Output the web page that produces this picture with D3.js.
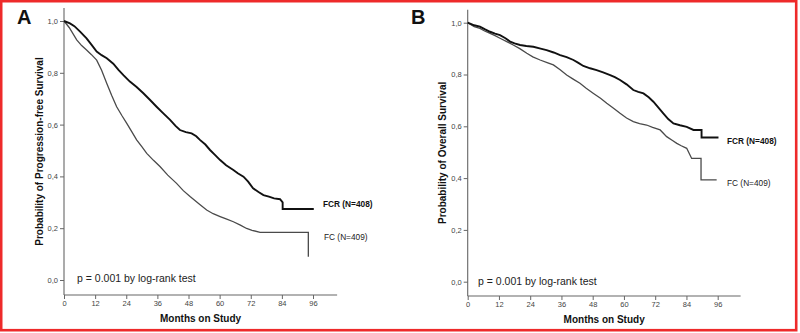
<!DOCTYPE html>
<html><head><meta charset="utf-8">
<script src="https://cdn.jsdelivr.net/npm/d3@7"></script>
<style>
html,body{margin:0;padding:0;background:#fff;}
svg{display:block;font-family:"Liberation Sans",Arial,sans-serif;}
</style></head>
<body>
<svg id="chart" width="800" height="333"></svg>
<script>
// ---------- data ----------
const xTicks = [0, 12, 24, 36, 48, 60, 72, 84, 96];
const yTicks = [0, 0.2, 0.4, 0.6, 0.8, 1.0];

// Panel A: progression-free survival
const pfsFCR_month = [0, 2.3, 4, 6.2, 8.7, 10.5, 12.6, 14.5, 16.5, 19, 21, 23, 25.4, 28, 30.6, 33, 35.7, 38, 40.9, 43, 44.7, 47, 49.2, 51, 52.4, 54.5, 56.3, 58, 60.2, 62.5, 65.3, 67, 69.2, 71, 72.9, 75, 76.9, 79, 81, 83.3, 84.3, 84.3, 96.3];
const pfsFCR_prob  = [1.0, 0.991, 0.98, 0.959, 0.933, 0.91, 0.882, 0.868, 0.856, 0.835, 0.811, 0.79, 0.766, 0.745, 0.721, 0.697, 0.669, 0.646, 0.618, 0.595, 0.579, 0.571, 0.566, 0.555, 0.541, 0.523, 0.502, 0.485, 0.463, 0.443, 0.425, 0.412, 0.399, 0.38, 0.354, 0.34, 0.328, 0.322, 0.315, 0.312, 0.3, 0.274, 0.274];
const pfsFC_month  = [0, 2, 4.9, 6.8, 8.7, 10.6, 12.6, 14.5, 16.5, 18.4, 20.3, 22.3, 24.2, 26, 28.0, 30, 31.9, 34.5, 37.0, 40, 43.4, 46, 48.6, 52, 55.0, 57.5, 60.2, 62.5, 65.3, 68, 70.4, 72.5, 75.6, 94.2, 94.2];
const pfsFC_prob   = [1.0, 0.975, 0.927, 0.905, 0.888, 0.87, 0.849, 0.81, 0.759, 0.712, 0.669, 0.635, 0.605, 0.575, 0.541, 0.515, 0.489, 0.462, 0.438, 0.405, 0.373, 0.345, 0.322, 0.294, 0.27, 0.256, 0.245, 0.236, 0.225, 0.212, 0.199, 0.192, 0.184, 0.184, 0.09];

// Panel B: overall survival
const osFCR_month = [0, 2.5, 4.7, 6.5, 8.6, 10.5, 12.4, 14.5, 16.3, 18, 20.1, 22.5, 25.2, 28, 30.3, 33, 35.5, 38, 40.6, 42.5, 44.4, 47, 49.5, 52, 54.7, 56.5, 58.5, 61, 63.6, 65.5, 67.5, 69.5, 71.3, 73, 75.1, 77, 79, 81.5, 84.1, 86.7, 89.8, 89.8, 96.3];
const osFCR_prob  = [1.0, 0.99, 0.985, 0.975, 0.965, 0.958, 0.952, 0.94, 0.927, 0.92, 0.914, 0.91, 0.907, 0.9, 0.894, 0.885, 0.875, 0.867, 0.856, 0.845, 0.833, 0.824, 0.817, 0.808, 0.798, 0.79, 0.779, 0.762, 0.74, 0.733, 0.727, 0.712, 0.695, 0.675, 0.65, 0.628, 0.611, 0.604, 0.598, 0.586, 0.586, 0.557, 0.557];
const osFC_month  = [0, 2.5, 4.7, 6.5, 8.6, 10.5, 12.4, 15, 17.5, 20, 22.7, 25, 27.8, 30.5, 32.9, 35.5, 38.0, 40.5, 43.1, 45.5, 48.3, 51, 53.4, 56, 58.5, 61, 63.6, 66, 68.7, 71, 73.9, 76.4, 78.5, 80.3, 82, 84.1, 86.0, 89.6, 89.6, 95.6];
const osFC_prob   = [1.0, 0.985, 0.978, 0.968, 0.959, 0.95, 0.94, 0.927, 0.914, 0.9, 0.882, 0.868, 0.856, 0.846, 0.837, 0.818, 0.798, 0.782, 0.766, 0.747, 0.727, 0.708, 0.689, 0.67, 0.65, 0.632, 0.618, 0.61, 0.605, 0.596, 0.586, 0.56, 0.546, 0.534, 0.525, 0.515, 0.476, 0.476, 0.393, 0.393];

const panels = [
  {letter: "A", yLabel: "Probability of Progression-free Survival",
   fcrM: pfsFCR_month, fcrP: pfsFCR_prob, fcM: pfsFC_month, fcP: pfsFC_prob,
   labelFCR: "FCR (N=408)", labelFC: "FC (N=409)",
   x0: 64, x96: 313, y1: 21, y0: 280, xAxisY: 295, xEnd: 105.3, yTop: 1.05,
   letterX: 17, letterY: 24, yLabX: 43, xLabY: 322, pX: 77, pY: 282,
   fcrLab: [323, 207], fcLab: [324, 240]},
  {letter: "B", yLabel: "Probability of Overall Survival",
   fcrM: osFCR_month, fcrP: osFCR_prob, fcM: osFC_month, fcP: osFC_prob,
   labelFCR: "FCR (N=408)", labelFC: "FC (N=409)",
   x0: 467.7, x96: 717.7, y1: 22.7, y0: 281.7, xAxisY: 296, xEnd: 104.8, yTop: 1.05,
   letterX: 411, letterY: 24, yLabX: 446, xLabY: 323, pX: 478, pY: 285,
   fcrLab: [727, 144], fcLab: [727, 186]}
];

const svg = d3.select("#chart");

// red frame
svg.append("rect").attr("x", 1.2).attr("y", 1.2).attr("width", 795).attr("height", 329)
  .attr("fill", "none").attr("stroke", "#ee2a2a").attr("stroke-width", 2.6);

const fmt = v => d3.format(".1f")(v).replace(".", ",");

panels.forEach(p => {
  const g = svg.append("g");
  const x = d3.scaleLinear().domain([0, 96]).range([p.x0, p.x96]);
  const y = d3.scaleLinear().domain([0, 1]).range([p.y0, p.y1]);
  const yBottom = y.invert(p.xAxisY);

  // axis lines
  g.append("line").attr("x1", x(0)).attr("x2", x(0)).attr("y1", y(p.yTop)).attr("y2", p.xAxisY)
    .attr("stroke", "#666").attr("stroke-width", 1.1);
  g.append("line").attr("x1", x(0)).attr("x2", x(p.xEnd)).attr("y1", p.xAxisY).attr("y2", p.xAxisY)
    .attr("stroke", "#666").attr("stroke-width", 1.1);

  // x axis ticks
  const xa = g.append("g").attr("transform", `translate(0,${p.xAxisY})`)
    .call(d3.axisBottom(x).tickValues(xTicks).tickSize(4).tickPadding(2));
  xa.select(".domain").remove();
  xa.selectAll(".tick line").attr("stroke", "#666");
  xa.selectAll(".tick text").attr("font-size", 7.5).attr("fill", "#444")
    .attr("font-family", "Liberation Sans, Arial, sans-serif");

  // y axis ticks
  const ya = g.append("g").attr("transform", `translate(${x(0)},0)`)
    .call(d3.axisLeft(y).tickValues(yTicks).tickFormat(fmt).tickSize(4).tickPadding(2));
  ya.select(".domain").remove();
  ya.selectAll(".tick line").attr("stroke", "#666");
  ya.selectAll(".tick text").attr("font-size", 7.5).attr("fill", "#444")
    .attr("font-family", "Liberation Sans, Arial, sans-serif");

  const line = d3.line().x(d => x(d[0])).y(d => y(d[1])).curve(d3.curveLinear);

  const fc = p.fcM.map((m, i) => [m, p.fcP[i]]);
  const fcr = p.fcrM.map((m, i) => [m, p.fcrP[i]]);

  g.append("path").attr("d", line(fc)).attr("fill", "none")
    .attr("stroke", "#4a4a4a").attr("stroke-width", 1.3).attr("stroke-linejoin", "miter");
  g.append("path").attr("d", line(fcr)).attr("fill", "none")
    .attr("stroke", "#111").attr("stroke-width", 1.9).attr("stroke-linejoin", "miter");

  // labels
  g.append("text").attr("x", p.fcrLab[0]).attr("y", p.fcrLab[1]).text(p.labelFCR)
    .attr("font-size", 8.3).attr("font-weight", "bold").attr("fill", "#111");
  g.append("text").attr("x", p.fcLab[0]).attr("y", p.fcLab[1]).text(p.labelFC)
    .attr("font-size", 8.3).attr("fill", "#222");

  g.append("text").attr("x", p.pX).attr("y", p.pY).text("p = 0.001 by log-rank test")
    .attr("font-size", 10.5).attr("fill", "#222");

  g.append("text").attr("x", (x(0) + x(p.xEnd)) / 2).attr("y", p.xLabY).attr("text-anchor", "middle")
    .text("Months on Study").attr("font-size", 10).attr("font-weight", "bold").attr("fill", "#111");

  g.append("text").attr("transform", `translate(${p.yLabX},${(y(1.05) + p.xAxisY) / 2}) rotate(-90)`)
    .attr("text-anchor", "middle").text(p.yLabel)
    .attr("font-size", 10).attr("font-weight", "bold").attr("fill", "#111");

  g.append("text").attr("x", p.letterX).attr("y", p.letterY).text(p.letter)
    .attr("font-size", 20).attr("font-weight", "bold").attr("fill", "#111");
});
</script>
</body></html>
